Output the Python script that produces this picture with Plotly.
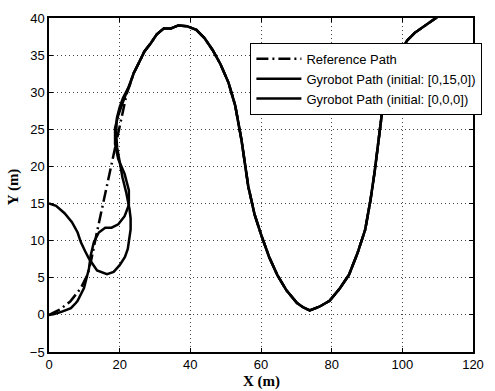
import plotly.graph_objects as go

# ---- data ----
# shared part of all paths (the big wave)
main_x = [22.8, 24.0, 25.5, 27.0, 28.8, 30.5, 32.5, 34.5, 36.6, 39.0, 41.7, 44.0, 46.3, 48.5,
          50.8, 52.7, 54.5, 56.4, 58.2, 60.1, 62.3, 64.6, 67.2, 70.2, 72.0, 73.8, 76.5, 79.4,
          82.2, 84.9, 87.3, 89.5, 91.0, 92.2, 93.4, 94.5, 96.0, 97.7, 99.5, 101.4, 103.5,
          106.0, 108.0, 109.5, 111.0]
main_y = [30.9, 32.6, 34.0, 35.5, 36.6, 37.8, 38.6, 38.6, 39.0, 38.9, 38.4, 37.3, 35.7, 33.8,
          31.3, 28.2, 23.5, 17.3, 13.5, 10.7, 7.8, 5.4, 3.3, 1.6, 1.0, 0.6, 1.1, 1.9,
          3.5, 5.4, 8.3, 11.5, 15.5, 19.4, 24.0, 28.2, 31.2, 33.5, 35.5, 37.0, 38.0,
          38.8, 39.4, 40.0, 40.6]

ref_start_x = [0.0, 3.0, 6.0, 9.0, 11.0, 12.0, 13.5, 15.5, 17.5, 19.5, 21.0, 22.0]
ref_start_y = [0.0, 0.7, 1.8, 3.6, 5.5, 7.5, 11.0, 15.5, 20.0, 24.5, 27.5, 29.8]

a_start_x = [0.0, 2.0, 4.4, 6.5, 8.1, 9.0, 10.2, 11.3, 13.6, 16.4, 18.3, 20.0, 21.5, 22.3, 23.1,
             23.1, 22.8, 21.9, 20.8, 20.0, 19.3, 19.0, 19.2, 20.0, 21.0, 22.0]
a_start_y = [15.0, 14.7, 13.7, 12.5, 11.1, 9.8, 8.6, 7.6, 6.0, 5.5, 5.8, 6.7, 7.8, 8.9, 11.5,
             13.0, 14.2, 16.4, 18.5, 20.5, 22.5, 24.5, 26.5, 28.0, 29.3, 30.2]

b_start_x = [0.0, 1.5, 3.5, 4.9, 6.2, 7.6, 8.1, 9.9, 11.3, 11.8, 12.7, 14.1, 15.9, 17.7, 19.6,
             21.4, 22.6, 22.6, 21.4, 19.6, 18.7, 18.7, 19.6, 20.8, 22.0]
b_start_y = [0.0, 0.1, 0.4, 0.7, 0.9, 1.6, 1.9, 3.6, 6.2, 8.0, 9.8, 11.1, 11.75, 11.75, 12.2,
             13.3, 14.8, 16.8, 19.0, 21.0, 23.0, 25.2, 26.9, 28.5, 30.0]

names = ["Reference Path", "Gyrobot Path (initial: [0,15,0])", "Gyrobot Path (initial: [0,0,0])"]
x_ticks = [0, 20, 40, 60, 80, 100, 120]
y_ticks = [-5, 0, 5, 10, 15, 20, 25, 30, 35, 40]

fig = go.Figure()
fig.add_trace(go.Scatter(x=ref_start_x + main_x, y=ref_start_y + main_y, mode="lines",
                         name=names[0],
                         line=dict(color="black", width=2.5, dash="12px,4px,2px,4px")))
fig.add_trace(go.Scatter(x=a_start_x + main_x, y=a_start_y + main_y, mode="lines",
                         name=names[1], line=dict(color="black", width=2.5)))
fig.add_trace(go.Scatter(x=b_start_x + main_x, y=b_start_y + main_y, mode="lines",
                         name=names[2], line=dict(color="black", width=2.5)))

axis_common = dict(showline=True, linecolor="black", linewidth=1.5, mirror="ticks",
                   ticks="inside", ticklen=4, tickcolor="black", tickwidth=1,
                   showgrid=True, gridcolor="#444", gridwidth=1, griddash="1px,3px",
                   zeroline=False,
                   tickfont=dict(family="Liberation Sans, Arial", size=13, color="black"))

fig.update_xaxes(range=[0, 120], tickvals=x_ticks, **axis_common)
fig.update_yaxes(range=[-5, 40], tickvals=y_ticks, **axis_common)

fig.update_layout(
    width=495, height=391,
    margin=dict(l=49, r=11, t=11, b=39),
    paper_bgcolor="white", plot_bgcolor="white",
    showlegend=True,
    legend=dict(x=0.475, y=0.818, xanchor="left", yanchor="middle",
                bgcolor="white", bordercolor="black", borderwidth=1,
                itemwidth=45,
                font=dict(family="Liberation Sans, Arial", size=13, color="black"),
                tracegroupgap=0),
    annotations=[
        dict(text="<b>X (m)</b>", xref="paper", yref="paper", x=0.5, y=-0.087,
             xanchor="center", yanchor="middle", showarrow=False,
             font=dict(family="Liberation Serif, Times New Roman", size=15, color="black")),
        dict(text="<b>Y (m)</b>", xref="paper", yref="paper", x=-0.083, y=0.496,
             xanchor="center", yanchor="middle", showarrow=False, textangle=-90,
             font=dict(family="Liberation Serif, Times New Roman", size=15, color="black")),
    ],
)

fig.write_html("out.html")
